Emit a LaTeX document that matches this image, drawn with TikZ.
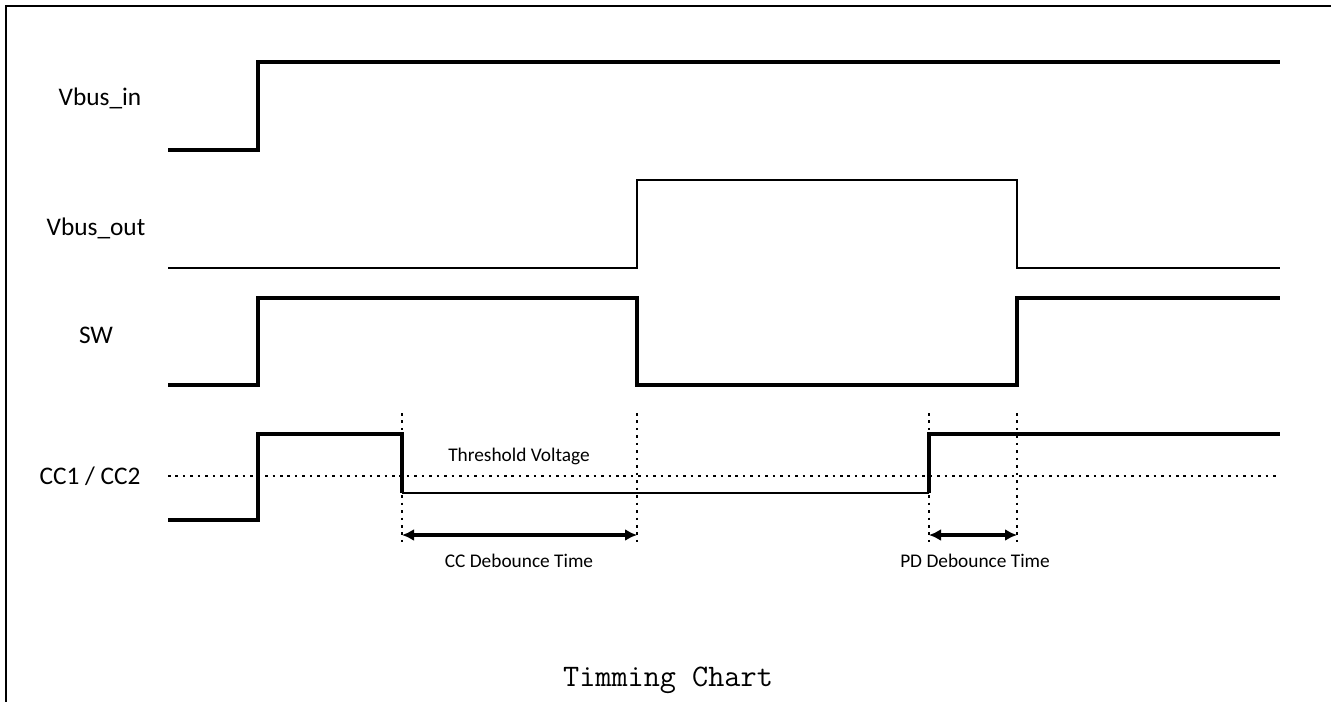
\documentclass[tikz,border=0pt]{standalone}
\usepackage{fontspec}
\setsansfont{Carlito}
\usetikzlibrary{arrows.meta,positioning}

\begin{document}
\begin{tikzpicture}[x=0.75pt,y=-0.75pt,
    wave/.style={line width=2.8pt,line join=miter},
    wavethin/.style={line width=2pt},
    marker/.style={line width=1.9pt,dash pattern=on 1.9pt off 3.7pt},
    span/.style={{Latex[length=9pt,width=9pt]}-{Latex[length=9pt,width=9pt]},line width=2.4pt},
    siglabel/.style={font=\sffamily\fontsize{19}{21}\selectfont},
    smalllabel/.style={font=\sffamily\fontsize{14.5}{16}\selectfont}]
  \useasboundingbox (0,0) rectangle (1331,702);
  % frame
  \draw[line width=1.7pt] (6,702) -- (6,6) -- (1331,6);

  % signal names
  \node[siglabel] (vin)  at (100,98)  {Vbus\_in};
  \node[siglabel] (vout) at (96,228)  {Vbus\_out};
  \node[siglabel] (sw)   at (96,335)  {SW};
  \node[siglabel] (cc)   at (90,476)  {CC1 / CC2};

  % waveforms
  \draw[wave,line width=3.1pt] (168,150) -- (258,150) -- (258,62) -- (1280,62);
  \draw[wavethin] (168,268) -- (637,268) -- (637,180) -- (1017,180)
    -- (1017,268) -- (1280,268);
  \draw[wave] (168,385) -- (258,385) -- (258,298) -- (637,298) -- (637,385)
    -- (1017,385) -- (1017,298) -- (1280,298);
  \draw[wave,line width=3.1pt] (168,520) -- (258,520) -- (258,434) -- (402,434) -- (402,493);
  \draw[wavethin] (402,493) -- (929,493);
  \draw[wave,line width=3.1pt] (929,493) -- (929,434) -- (1280,434);

  % threshold
  \draw[marker] (168,476) -- (1280,476);
  \node[smalllabel] (thr) at (519,456) {Threshold Voltage};

  % timing marks
  \coordinate (ccstart) at (402,535);
  \coordinate (ccend)   at (637,535);
  \coordinate (pdstart) at (929,535);
  \coordinate (pdend)   at (1017,535);
  \foreach \x in {402,637,929,1017}
    \draw[marker] (\x,413) -- (\x,546);
  \draw[span] (ccstart) -- (ccend);
  \draw[span] (pdstart) -- (pdend);
  \node[smalllabel] (ccdb) at (519,561) {CC Debounce Time};
  \node[smalllabel] (pddb) at (975,561) {PD Debounce Time};

  \node[font=\ttfamily\fontsize{23.5}{26}\selectfont] (title) at (668,680) {Timming Chart};
\end{tikzpicture}
\end{document}
